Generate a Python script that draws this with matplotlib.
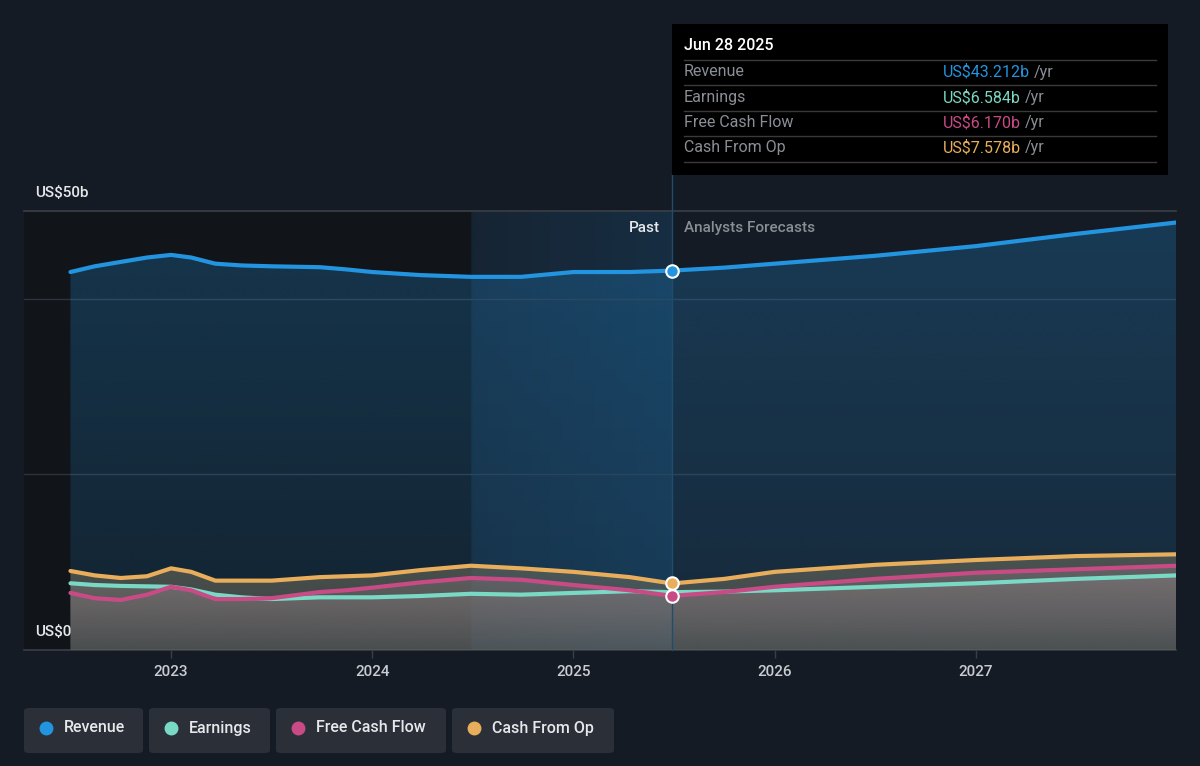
import numpy as np
import matplotlib.pyplot as plt
from matplotlib.patches import FancyBboxPatch, Rectangle, Polygon
from matplotlib.colors import to_rgb

plt.rcParams['font.family'] = ['Roboto', 'DejaVu Sans']

# Données (en milliards US$), dates en années décimales
dates = [2022.5, 2022.62, 2022.75, 2022.88, 2023.0, 2023.1, 2023.22, 2023.35, 2023.5,
         2023.74, 2023.87, 2024.0, 2024.24, 2024.49, 2024.74, 2025.0, 2025.28, 2025.49,
         2025.75, 2026.0, 2026.5, 2027.0, 2027.5, 2028.0]
revenue = [43.05, 43.7, 44.2, 44.7, 45.0, 44.7, 44.0, 43.8, 43.7,
           43.6, 43.35, 43.05, 42.7, 42.5, 42.5, 43.05, 43.05, 43.212,
           43.55, 44.0, 44.9, 46.0, 47.4, 48.7]
earnings = [7.6, 7.4, 7.3, 7.25, 7.2, 6.9, 6.3, 6.0, 5.8,
            6.0, 6.0, 6.0, 6.15, 6.4, 6.3, 6.5, 6.7, 6.584,
            6.65, 6.8, 7.2, 7.6, 8.1, 8.5]
fcf = [6.5, 5.9, 5.7, 6.3, 7.2, 6.8, 5.8, 5.8, 5.9,
       6.6, 6.8, 7.1, 7.7, 8.2, 8.0, 7.4, 6.8, 6.17,
       6.6, 7.2, 8.1, 8.8, 9.2, 9.6]
cash_op = [9.0, 8.5, 8.2, 8.4, 9.3, 8.9, 7.9, 7.9, 7.9,
           8.3, 8.4, 8.5, 9.1, 9.6, 9.3, 8.9, 8.3, 7.578,
           8.1, 8.9, 9.7, 10.25, 10.7, 10.9]

year_ticks = [2023, 2024, 2025, 2026, 2027]
now = 2025.49
past_start = 2024.49

c_rev = '#2394df'
c_earn = '#7ad9c4'
c_fcf = '#c94b86'
c_op = '#e9ae5b'
bg = '#151b24'


def gradient_fill(ax, x, y, color, a_top, a_bot, zorder):
    # remplissage sous la courbe avec un dégradé vertical
    rgb = to_rgb(color)
    ymax = max(y)
    img = np.zeros((100, 1, 4))
    img[:, 0, :3] = rgb
    img[:, 0, 3] = np.linspace(a_top, a_bot, 100)
    im = ax.imshow(img, aspect='auto', extent=[min(x), max(x), 0, ymax],
                   origin='upper', zorder=zorder, interpolation='bilinear')
    verts = list(zip(x, y)) + [(max(x), 0), (min(x), 0)]
    poly = Polygon(verts, closed=True, facecolor='none', edgecolor='none')
    ax.add_patch(poly)
    im.set_clip_path(poly)


fig = plt.figure(figsize=(12, 7.66), dpi=100, facecolor=bg)
ax = fig.add_axes([24/1200, 116/766, 1152/1200, 439/766])
ax.set_facecolor(bg)

# zones de fond
ax.axvspan(2022.269, past_start, color='#111419', zorder=0)
# zone de la dernière année, plus claire vers la ligne "maintenant"
zone = np.zeros((1, 100, 4))
zone[0, :, :3] = to_rgb('#1a4a70')
zone[0, :, 3] = np.linspace(0.2, 0.4, 100)
ax.imshow(zone, aspect='auto', extent=[past_start, now, 0, 50], zorder=0.5,
          interpolation='bilinear')

# grille
for v in [20, 40]:
    ax.axhline(v, color='#2c3440', lw=1, zorder=1)
ax.axhline(50, color='#3a3f47', lw=1.2, zorder=1, clip_on=False)

x = np.array(dates)
gradient_fill(ax, x, revenue, c_rev, 0.26, 0.12, 2)
gradient_fill(ax, x, cash_op, '#6e6c5c', 0.6, 0.45, 3)
gradient_fill(ax, x, earnings, '#8a8080', 0.45, 0.1, 3.1)
gradient_fill(ax, x, fcf, '#8a7a80', 0.4, 0.1, 3.2)

# courbes
ax.plot(x, revenue, color=c_rev, lw=3, zorder=5, solid_capstyle='round')
ax.plot(x, cash_op, color=c_op, lw=3, zorder=5, solid_capstyle='round')
ax.plot(x, earnings, color=c_earn, lw=3, zorder=5, solid_capstyle='round')
ax.plot(x, fcf, color=c_fcf, lw=3, zorder=5, solid_capstyle='round')

ax.set_xlim(2022.269, 2027.995)
ax.set_ylim(0, 50)

# ligne "maintenant"
ax.plot([now, now], [0, 54.2], color='#1f4d70', lw=1, zorder=4, clip_on=False)

i = dates.index(now)
for vals, col in [(revenue, c_rev), (cash_op, c_op), (fcf, c_fcf)]:
    ax.plot(now, vals[i], 'o', ms=9, mfc=col, mec='white', mew=1.5, zorder=7)

# axes
for s in ['top', 'right', 'left']:
    ax.spines[s].set_visible(False)
ax.spines['bottom'].set_color('#3a3f47')
ax.spines['bottom'].set_linewidth(1.2)
ax.set_yticks([])
ax.set_xticks(year_ticks)
ax.set_xticklabels([str(y) for y in year_ticks], color='#c9ccd1', fontsize=11, fontweight='medium')
ax.tick_params(axis='x', colors='#3a3f47', length=6, width=1, labelcolor='#c9ccd1', pad=5)

# étiquettes
fig.text(35/1200, 1 - 193/766, 'US$50b', color='#e6e8eb', fontsize=11, va='center', fontweight='medium')
fig.text(35/1200, 1 - 632/766, 'US$0', color='#e6e8eb', fontsize=11, va='center', fontweight='medium')
fig.text(660/1200, 1 - 228/766, 'Past', color='#e6e8eb', fontsize=11, va='center', ha='right',
         fontweight='medium')
fig.text(684/1200, 1 - 228/766, 'Analysts Forecasts', color='#8a8f96', fontsize=11, va='center',
         fontweight='medium')

# infobulle
fig.patches.append(Rectangle((672/1200, 1 - 175/766), 496/1200, 151/766,
                             transform=fig.transFigure, facecolor='black', edgecolor='none', zorder=10))
fig.text(684/1200, 1 - 46/766, 'Jun 28 2025', color='white', fontsize=11.5, va='center',
         fontweight='medium', zorder=11)
rows = [('Revenue', 'US$43.212b', c_rev), ('Earnings', 'US$6.584b', c_earn),
        ('Free Cash Flow', 'US$6.170b', c_fcf), ('Cash From Op', 'US$7.578b', c_op)]
renderer = fig.canvas.get_renderer()
for k, (lab, val, col) in enumerate(rows):
    yy = 72 + k * 25.3
    fig.text(684/1200, 1 - yy/766, lab, color='#8a8f96', fontsize=11.5, va='center', zorder=11)
    t = fig.text(943/1200, 1 - yy/766, val, color=col, fontsize=11.5, va='center', zorder=11)
    w = t.get_window_extent(renderer).width
    fig.text((943 + w + 4)/1200, 1 - yy/766, '/yr', color='#8a8f96',
             fontsize=11.5, va='center', zorder=11)
for yy in [60, 85, 111, 136, 162]:
    fig.lines.append(plt.Line2D([684/1200, 1156/1200], [1 - yy/766, 1 - yy/766],
                                transform=fig.transFigure, color='#3a3a3a', lw=1, zorder=11))

# légende
legend_items = [('Revenue', c_rev, 24, 143), ('Earnings', c_earn, 149, 270),
                ('Free Cash Flow', c_fcf, 276, 446), ('Cash From Op', c_op, 452, 614)]
for lab, col, x0, x1 in legend_items:
    fig.patches.append(FancyBboxPatch((x0/1200, 1 - 753/766), (x1 - x0)/1200, 45/766,
                                      boxstyle='round,pad=0,rounding_size=0.004',
                                      transform=fig.transFigure, facecolor='#2a2f38',
                                      edgecolor='none'))
    fig.lines.append(plt.Line2D([(x0 + 22)/1200], [1 - 728/766], marker='o', ms=9,
                                color=col, mec=col, transform=fig.transFigure))
    fig.text((x0 + 40)/1200, 1 - 728/766, lab, color='#e6e8eb', fontsize=11.5, va='center',
             fontweight='medium')

fig.savefig('out.png', dpi=100, facecolor=bg)
